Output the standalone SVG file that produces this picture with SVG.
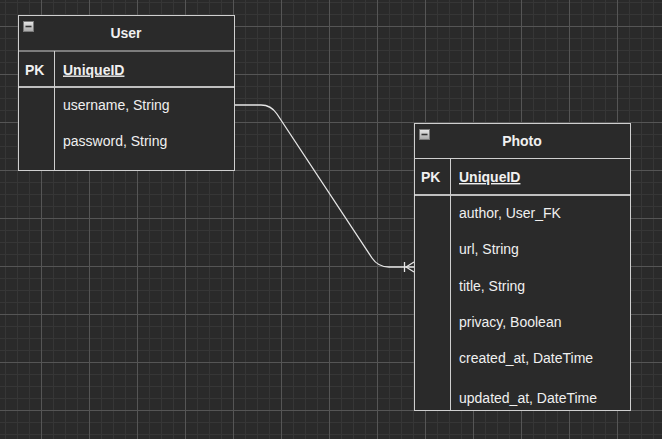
<svg xmlns="http://www.w3.org/2000/svg" width="662" height="439" viewBox="0 0 662 439">
<style>
.frame{fill:#2a2a2a;stroke:#cfcfcf;stroke-width:1}
.sep{stroke:#cfcfcf;stroke-width:1;fill:none}
.sepw{stroke:#f2f2f2;stroke-width:1.3;fill:none}
.t{font-family:"Liberation Sans",Arial,sans-serif;font-size:14px;fill:#f0f0f0}
.b{font-weight:bold}
.u{text-decoration:underline}
.conn{fill:none;stroke:#e6e6e6;stroke-width:1.3}
</style>
<defs>
<pattern id="grid" patternUnits="userSpaceOnUse" x="41" y="26" width="48" height="48">
<rect width="48" height="48" fill="#2a2a2a"/>
<path d="M12.5 0V48M24.5 0V48M36.5 0V48M0 12.5H48M0 24.5H48M0 36.5H48" stroke="#363636" stroke-width="1"/>
<path d="M0.5 0V48M0 0.5H48" stroke="#555555" stroke-width="1"/>
</pattern>
<linearGradient id="ig" x1="0" y1="0" x2="0" y2="1">
<stop offset="0" stop-color="#e8e8e8"/>
<stop offset="1" stop-color="#a8a8a8"/>
</linearGradient>
<g id="icon">
<rect x="0.5" y="0.5" width="10" height="10" fill="url(#ig)" stroke="#7a7a7a" stroke-width="1"/>
<path d="M2.5 5.5H8.5" stroke="#333" stroke-width="1.6"/>
</g>
</defs>
<rect width="662" height="439" fill="url(#grid)"/>

<g id="connectors">
<path class="conn" d="M234 105H261Q271 105 277 114L372 258Q378 267 389 267H414"/>
<path class="conn" d="M404.5 262V272M406 267L414 262M406 267L414 272"/>
</g>

<g id="User">
<rect class="frame" x="18.5" y="15.5" width="216" height="155"/>
<path class="sep" d="M18.5 51H234.5"/>
<path class="sepw" d="M18.5 87H234.5"/>
<path class="sep" d="M54.5 51V170.5"/>
<use href="#icon" x="23" y="21"/>
<text class="t b" x="126" y="38" text-anchor="middle">User</text>
<text class="t b" x="25" y="74.5">PK</text>
<text class="t b u" x="63" y="74.5">UniqueID</text>
<text class="t" x="63" y="110">username, String</text>
<text class="t" x="63" y="146">password, String</text>
</g>

<g id="Photo">
<rect class="frame" x="414.5" y="123.5" width="216" height="287"/>
<path class="sep" d="M414.5 158.5H630.5"/>
<path class="sepw" d="M414.5 195H630.5"/>
<path class="sep" d="M450.5 158.5V410.5"/>
<use href="#icon" x="419" y="129"/>
<text class="t b" x="522" y="146" text-anchor="middle">Photo</text>
<text class="t b" x="421" y="182">PK</text>
<text class="t b u" x="459" y="182">UniqueID</text>
<text class="t" x="459" y="218">author, User_FK</text>
<text class="t" x="459" y="254">url, String</text>
<text class="t" x="459" y="291">title, String</text>
<text class="t" x="459" y="327">privacy, Boolean</text>
<text class="t" x="459" y="363">created_at, DateTime</text>
<text class="t" x="459" y="403">updated_at, DateTime</text>
</g>
</svg>
